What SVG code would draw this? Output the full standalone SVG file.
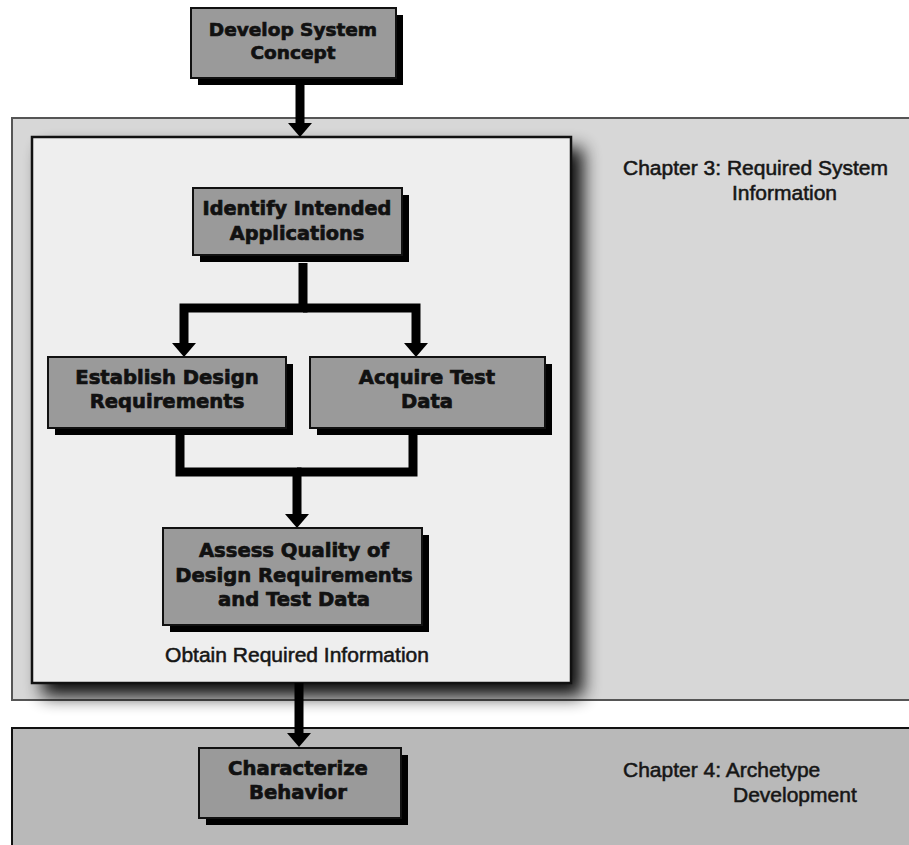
<svg xmlns="http://www.w3.org/2000/svg" width="909" height="845" viewBox="0 0 909 845">
  <defs>
    <style>
      .band3 { fill: #d7d7d7; stroke: #555555; stroke-width: 2; }
      .band4 { fill: #b9b9b9; stroke: #111111; stroke-width: 2; }
      .inner { fill: #eeeeee; stroke: #111111; stroke-width: 2.5; }
      .box { fill: #9a9a9a; stroke: #111111; stroke-width: 2; }
      .shadow { fill: #000000; }
      .label { font-family: "DejaVu Sans", "Liberation Sans", sans-serif; font-weight: bold; fill: #111111; stroke: #111111; stroke-width: 0.7; text-anchor: middle; }
      .caption { font-family: "Liberation Sans", Arial, sans-serif; font-size: 21px; fill: #161616; stroke: #161616; stroke-width: 0.55; }
      .wire { fill: none; stroke: #000000; stroke-width: 9; stroke-linejoin: miter; }
    </style>
    <marker id="head" markerUnits="userSpaceOnUse" viewBox="0 0 14 24" refX="0" refY="12" markerWidth="14" markerHeight="24" orient="auto">
      <path d="M0,0 L14,12 L0,24 z" fill="#000000"/>
    </marker>
    <filter id="soft" x="-10%" y="-10%" width="130%" height="130%">
      <feGaussianBlur stdDeviation="9"/>
    </filter>
  </defs>

  <rect width="909" height="845" fill="#ffffff"/>

  <!-- chapter bands -->
  <g id="chapter3">
    <rect class="band3" x="12" y="118" width="910" height="582"/>
    <text class="caption" x="623" y="175">Chapter 3: Required System</text>
    <text class="caption" x="732" y="200">Information</text>
  </g>

  <!-- soft drop shadow under the process panel -->
  <rect x="42" y="148" width="541" height="548" fill="#000000" opacity="0.95" filter="url(#soft)"/>

  <g id="chapter4">
    <rect class="band4" x="12" y="728" width="910" height="130"/>
    <text class="caption" x="623" y="777">Chapter 4: Archetype</text>
    <text class="caption" x="733" y="802">Development</text>
  </g>

  <g id="obtain-required-information">
    <rect class="inner" x="32" y="137" width="539" height="546"/>
    <text class="caption" x="297" y="662" text-anchor="middle">Obtain Required Information</text>
  </g>

  <!-- connectors -->
  <g id="connectors">
    <path class="wire" d="M300,85 V123" marker-end="url(#head)"/>
    <path class="wire" d="M303,263 V308 H184 V343" marker-end="url(#head)"/>
    <path class="wire" d="M303,308 H416 V343" marker-end="url(#head)"/>
    <path class="wire" d="M180,435 V472 H297 V514" marker-end="url(#head)"/>
    <path class="wire" d="M413,435 V472 H297"/>
    <path class="wire" d="M299,683 V733" marker-end="url(#head)"/>
  </g>

  <!-- process steps -->
  <g id="develop-system-concept">
    <rect class="shadow" x="198" y="15" width="205" height="70"/>
    <rect class="box" x="191" y="8" width="205" height="70"/>
    <text class="label" font-size="18.5" x="293" y="36">Develop System</text>
    <text class="label" font-size="18.5" x="293" y="59">Concept</text>
  </g>

  <g id="identify-intended-applications">
    <rect class="shadow" x="200" y="195" width="209" height="67"/>
    <rect class="box" x="193" y="188" width="209" height="67"/>
    <text class="label" font-size="19.3" x="297" y="215">Identify Intended</text>
    <text class="label" font-size="19.3" x="297" y="240">Applications</text>
  </g>

  <g id="establish-design-requirements">
    <rect class="shadow" x="55" y="364" width="238" height="71"/>
    <rect class="box" x="48" y="357" width="238" height="71"/>
    <text class="label" font-size="19.6" x="167" y="384">Establish Design</text>
    <text class="label" font-size="19.6" x="167" y="408">Requirements</text>
  </g>

  <g id="acquire-test-data">
    <rect class="shadow" x="317" y="364" width="235" height="71"/>
    <rect class="box" x="310" y="357" width="235" height="71"/>
    <text class="label" font-size="19.6" x="427" y="384">Acquire Test</text>
    <text class="label" font-size="19.6" x="427" y="408">Data</text>
  </g>

  <g id="assess-quality">
    <rect class="shadow" x="170" y="535" width="259" height="97"/>
    <rect class="box" x="163" y="528" width="259" height="97"/>
    <text class="label" font-size="19.6" x="294" y="557">Assess Quality of</text>
    <text class="label" font-size="19.6" x="294" y="582">Design Requirements</text>
    <text class="label" font-size="19.6" x="294" y="606">and Test Data</text>
  </g>

  <g id="characterize-behavior">
    <rect class="shadow" x="206" y="755" width="202" height="70"/>
    <rect class="box" x="199" y="748" width="202" height="70"/>
    <text class="label" font-size="19.6" x="298" y="775">Characterize</text>
    <text class="label" font-size="19.6" x="298" y="799">Behavior</text>
  </g>
</svg>
